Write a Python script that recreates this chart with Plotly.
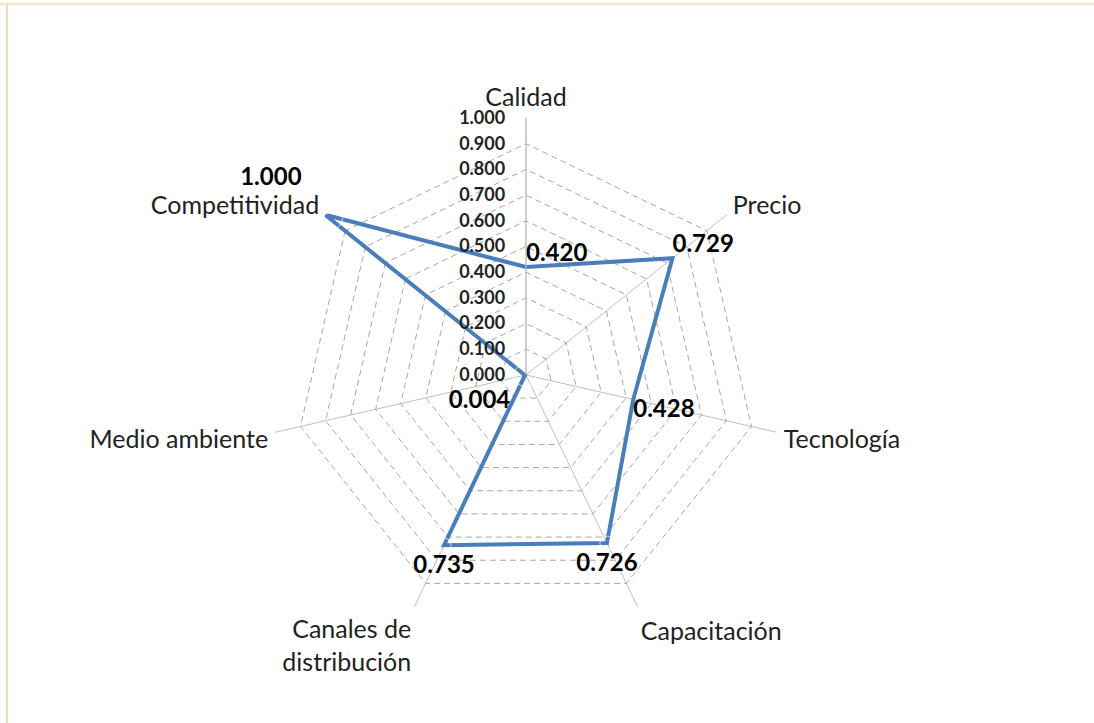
import plotly.graph_objects as go

categories = ["Calidad", "Precio", "Tecnología", "Capacitación",
              "Canales de<br>distribución", "Medio ambiente", "Competitividad"]
values = [0.420, 0.729, 0.428, 0.726, 0.735, 0.004, 1.000]
value_labels = ["0.420", "0.729", "0.428", "0.726", "0.735", "0.004", "1.000"]
radial_ticks = [0.0, 0.1, 0.2, 0.3, 0.4, 0.5, 0.6, 0.7, 0.8, 0.9, 1.0]

# label placement styling (not data)
label_positions = ["top right", "top right", "bottom right", "bottom center",
                   "bottom center", "bottom left", "top left"]
label_pads = [0, 0, 0, 14, 14, 22, 36]

fig = go.Figure()
fig.add_trace(go.Scatterpolar(
    r=values + values[:1],
    theta=categories + categories[:1],
    mode="lines",
    line=dict(color="#4A7EBB", width=4),
    hoverinfo="skip",
    showlegend=False,
))
fig.add_trace(go.Scatterpolar(
    r=values,
    theta=categories,
    mode="markers+text",
    marker=dict(size=label_pads, color="rgba(0,0,0,0)"),
    text=value_labels,
    textposition=label_positions,
    textfont=dict(family="Lato", size=24, color="#000000", weight="bold"),
    hoverinfo="skip",
    showlegend=False,
))

W, H = 1094, 723
cx, cy, R = 526, 375, 257
fig.update_layout(
    width=W, height=H,
    margin=dict(l=0, r=0, t=0, b=0),
    paper_bgcolor="#FFFFFF",
    plot_bgcolor="#FFFFFF",
    font=dict(family="Lato", size=20, color="#222222"),
    polar=dict(
        domain=dict(x=[(cx - R) / W, (cx + R) / W],
                    y=[(H - cy - R) / H, (H - cy + R) / H]),
        bgcolor="rgba(0,0,0,0)",
        gridshape="linear",
        radialaxis=dict(
            range=[0, 1],
            tickvals=radial_ticks,
            tickformat=".3f",
            angle=90,
            tickangle=90,
            side="counterclockwise",
            showline=True,
            linecolor="#BFBFBF",
            linewidth=1,
            gridcolor="#A6A6A6",
            griddash="6px,4px",
            gridwidth=1,
            ticks="outside",
            ticklen=14,
            tickcolor="rgba(0,0,0,0)",
            tickfont=dict(family="Lato", size=18, color="#222222", weight="bold"),
        ),
        angularaxis=dict(
            rotation=90,
            direction="clockwise",
            showline=False,
            gridcolor="#BFBFBF",
            gridwidth=1,
            ticks="outside",
            ticklen=2,
            tickcolor="rgba(0,0,0,0)",
            tickfont=dict(family="Lato", size=25, color="#222222"),
        ),
    ),
    shapes=[
        dict(type="line", xref="paper", yref="paper", x0=0, x1=1, y0=1 - 4 / H, y1=1 - 4 / H,
             line=dict(color="#F6E9CC", width=3)),
        dict(type="line", xref="paper", yref="paper", x0=7 / W, x1=7 / W, y0=0, y1=1 - 4 / H,
             line=dict(color="#E6DCC0", width=2)),
    ],
)

fig.write_html("out.html")
